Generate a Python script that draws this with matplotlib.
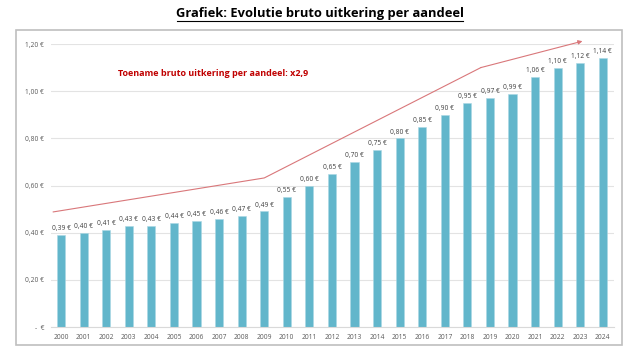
import matplotlib.pyplot as plt
from matplotlib.patches import Rectangle

plt.rcParams['font.family'] = ['Open Sans', 'DejaVu Sans']

jaren = [str(j) for j in range(2000, 2025)]
uitkering = [0.39, 0.40, 0.41, 0.43, 0.43, 0.44, 0.45, 0.46, 0.47, 0.49,
             0.55, 0.60, 0.65, 0.70, 0.75, 0.80, 0.85, 0.90, 0.95, 0.97,
             0.99, 1.06, 1.10, 1.12, 1.14]
# trendpijl (positie op de x-as = index van het jaar)
trend_x = [-0.35, 9.0, 18.6, 23.1]
trend_y = [0.488, 0.632, 1.10, 1.212]
yticks = [0, 0.2, 0.4, 0.6, 0.8, 1.0, 1.2]

def euro(v):
    if v == 0:
        return '-  €'
    return f'{v:.2f} €'.replace('.', ',')

fig = plt.figure(figsize=(6.3, 3.55), dpi=100)
fig.patches.append(Rectangle((16/630, 1-345/355), 606/630, 315/355,
                             transform=fig.transFigure, fill=False,
                             edgecolor='#bfbfbf', linewidth=1.2))
ax = fig.add_axes([51/630, 1-327/355, 563/630, 283/355])

x = list(range(len(jaren)))
bars = ax.bar(x, uitkering, width=0.36, color='#62b6cb', edgecolor='#a9d8e4', linewidth=0.4, zorder=2)
for bar, v in zip(bars, uitkering):
    ax.text(bar.get_x() + bar.get_width()/2, v + 0.012, euro(v),
            ha='center', va='bottom', fontsize=4.8, color='#404040')

ax.plot(trend_x[:-1], trend_y[:-1], color='#d9777a', linewidth=0.8, zorder=3)
ax.annotate('', xy=(trend_x[-1], trend_y[-1]), xytext=(trend_x[-2], trend_y[-2]),
            arrowprops=dict(arrowstyle='-|>', color='#d9777a', lw=0.8,
                            mutation_scale=6, shrinkA=0, shrinkB=0),
            annotation_clip=False, zorder=3)

ax.text(0.119, 0.895, 'Toename bruto uitkering per aandeel: x2,9',
        transform=ax.transAxes, color='#c00000', fontsize=6.5,
        fontweight='bold', va='center')

ax.set_xlim(-0.45, 24.5)
ax.set_ylim(0, 1.2)
ax.set_xticks(x)
ax.set_xticklabels(jaren, fontsize=4.8, color='#595959')
ax.set_yticks(yticks)
ax.set_yticklabels([euro(v) for v in yticks], fontsize=4.8, color='#595959')
ax.tick_params(length=0, pad=5)
ax.grid(axis='y', color='#e3e3e3', linewidth=0.8, zorder=0)
ax.set_axisbelow(True)
for s in ['top', 'right', 'left']:
    ax.spines[s].set_visible(False)
ax.spines['bottom'].set_color('#d9d9d9')
ax.spines['bottom'].set_linewidth(0.8)

fig.text(320/630, 1-13/355, 'Grafiek: Evolutie bruto uitkering per aandeel',
         ha='center', va='center', fontsize=9.3, fontweight='bold',
         color='black', family=['Open Sans', 'DejaVu Sans'])
# onderstreping titel
fig.add_artist(plt.Line2D([177/630, 463/630], [1-21/355, 1-21/355],
                          color='black', linewidth=0.8))

fig.savefig('out.png', dpi=100)
